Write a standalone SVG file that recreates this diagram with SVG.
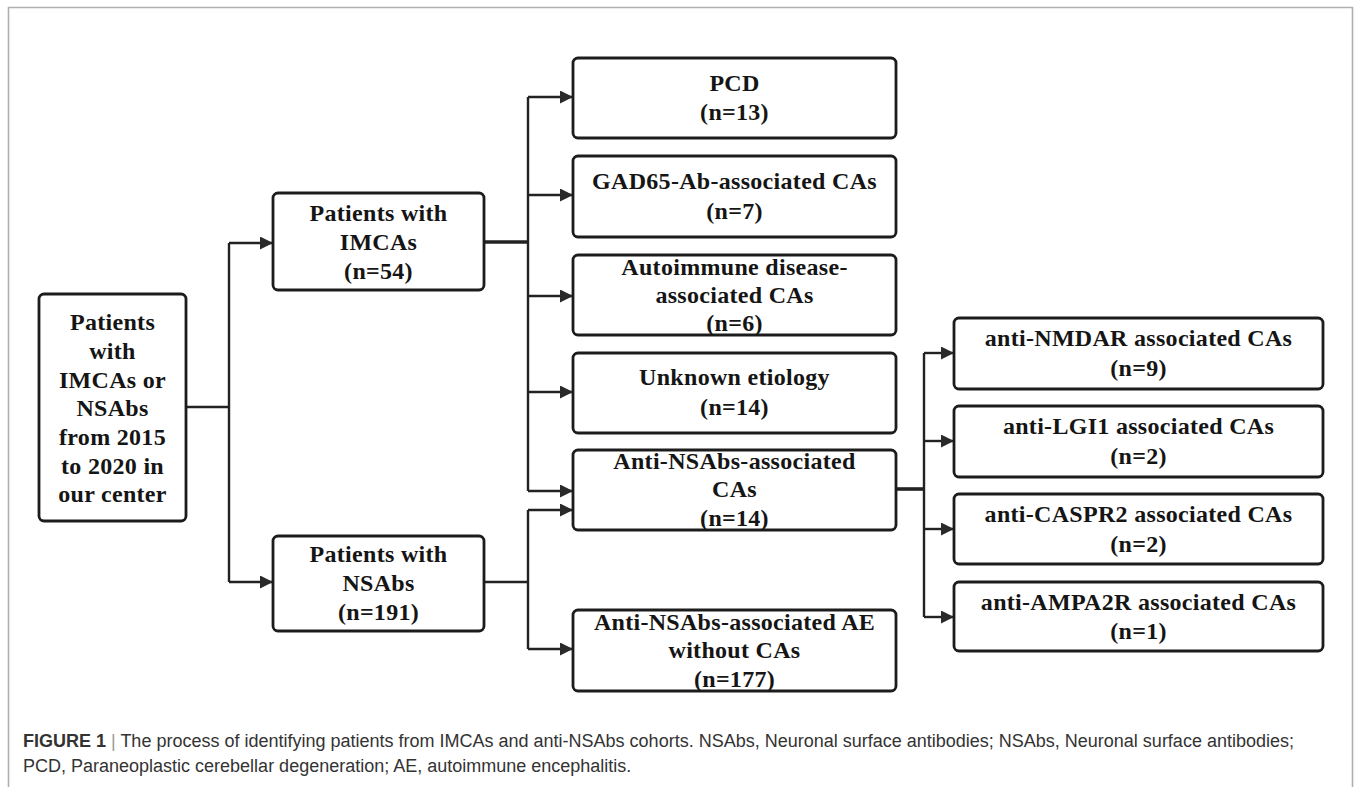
<svg xmlns="http://www.w3.org/2000/svg" width="1354" height="787" viewBox="0 0 1354 787">
<style>
.box{fill:#fff;stroke:#1c1c1c;stroke-width:2.8}
.t{font-family:"Liberation Serif","Times New Roman",serif;font-weight:bold;font-size:24px;fill:#151515;text-anchor:middle;letter-spacing:0.3px}
.ln{fill:none;stroke:#222;stroke-width:2.4}
.thick{fill:none;stroke:#222;stroke-width:3.6}
.arr{fill:none;stroke:#222;stroke-width:2.4;marker-end:url(#ah)}
.cap{font-family:"Liberation Sans",Arial,sans-serif;font-size:18px;fill:#333}
</style>
<defs>
<marker id="ah" viewBox="0 0 10 10" refX="10" refY="5" markerUnits="userSpaceOnUse" markerWidth="21" markerHeight="13" orient="auto">
<path d="M0,0 L10,5 L0,10 z" fill="#2a2a2a"/>
</marker>
</defs>
<rect width="1354" height="787" fill="#fff"/>
<path d="M8.5,787 V7.5 H1352.5 V787" fill="none" stroke="#b0b0b0" stroke-width="1.6"/>

<g id="connectors">
<path class="ln" d="M186,407 H229"/>
<path class="ln" d="M229,243 V582"/>
<path class="arr" d="M229,243 H273"/>
<path class="arr" d="M229,582 H273"/>
<path class="thick" d="M484,242 H528"/>
<path class="ln" d="M528,97 V491"/>
<path class="arr" d="M528,97 H573"/>
<path class="arr" d="M528,195 H573"/>
<path class="arr" d="M528,296 H573"/>
<path class="arr" d="M528,392 H573"/>
<path class="arr" d="M528,491 H573"/>
<path class="ln" d="M484,582 H528"/>
<path class="ln" d="M528,510 V649"/>
<path class="arr" d="M528,510 H573"/>
<path class="arr" d="M528,649 H573"/>
<path class="thick" d="M896,489 H924"/>
<path class="ln" d="M924,353 V617"/>
<path class="arr" d="M924,353 H954"/>
<path class="arr" d="M924,441 H954"/>
<path class="arr" d="M924,529 H954"/>
<path class="arr" d="M924,617 H954"/>
</g>

<g id="root">
<rect class="box" x="39" y="294" width="147" height="227" rx="5"/>
<text class="t" x="112.5" y="330">Patients</text>
<text class="t" x="112.5" y="359">with</text>
<text class="t" x="112.5" y="388">IMCAs or</text>
<text class="t" x="112.5" y="416">NSAbs</text>
<text class="t" x="112.5" y="445">from 2015</text>
<text class="t" x="112.5" y="474">to 2020 in</text>
<text class="t" x="112.5" y="502">our center</text>
</g>

<g id="imcas">
<rect class="box" x="273" y="193" width="211" height="97" rx="5"/>
<text class="t" x="378.5" y="221">Patients with</text>
<text class="t" x="378.5" y="250">IMCAs</text>
<text class="t" x="378.5" y="279">(n=54)</text>
</g>

<g id="nsabs">
<rect class="box" x="273" y="536" width="211" height="95" rx="5"/>
<text class="t" x="378.5" y="562">Patients with</text>
<text class="t" x="378.5" y="591">NSAbs</text>
<text class="t" x="378.5" y="620">(n=191)</text>
</g>

<g id="pcd">
<rect class="box" x="573" y="58" width="323" height="80" rx="5"/>
<text class="t" x="734.5" y="91">PCD</text>
<text class="t" x="734.5" y="120">(n=13)</text>
</g>

<g id="gad65">
<rect class="box" x="573" y="156" width="323" height="81" rx="5"/>
<text class="t" x="734.5" y="189">GAD65-Ab-associated CAs</text>
<text class="t" x="734.5" y="219">(n=7)</text>
</g>

<g id="autoimmune">
<rect class="box" x="573" y="255" width="323" height="80" rx="5"/>
<text class="t" x="734.5" y="275">Autoimmune disease-</text>
<text class="t" x="734.5" y="303">associated CAs</text>
<text class="t" x="734.5" y="331">(n=6)</text>
</g>

<g id="unknown">
<rect class="box" x="573" y="353" width="323" height="80" rx="5"/>
<text class="t" x="734.5" y="385">Unknown etiology</text>
<text class="t" x="734.5" y="415">(n=14)</text>
</g>

<g id="anti-nsabs-cas">
<rect class="box" x="573" y="450" width="323" height="80" rx="5"/>
<text class="t" x="734.5" y="469">Anti-NSAbs-associated</text>
<text class="t" x="734.5" y="497">CAs</text>
<text class="t" x="734.5" y="526">(n=14)</text>
</g>

<g id="anti-nsabs-ae">
<rect class="box" x="573" y="610" width="323" height="81" rx="5"/>
<text class="t" x="734.5" y="630">Anti-NSAbs-associated AE</text>
<text class="t" x="734.5" y="658">without CAs</text>
<text class="t" x="734.5" y="687">(n=177)</text>
</g>

<g id="nmdar">
<rect class="box" x="954" y="318" width="369" height="71" rx="5"/>
<text class="t" x="1138.5" y="346">anti-NMDAR associated CAs</text>
<text class="t" x="1138.5" y="376">(n=9)</text>
</g>

<g id="lgi1">
<rect class="box" x="954" y="406" width="369" height="71" rx="5"/>
<text class="t" x="1138.5" y="434">anti-LGI1 associated CAs</text>
<text class="t" x="1138.5" y="464">(n=2)</text>
</g>

<g id="caspr2">
<rect class="box" x="954" y="494" width="369" height="70" rx="5"/>
<text class="t" x="1138.5" y="522">anti-CASPR2 associated CAs</text>
<text class="t" x="1138.5" y="552">(n=2)</text>
</g>

<g id="ampa2r">
<rect class="box" x="954" y="582" width="369" height="69" rx="5"/>
<text class="t" x="1138.5" y="610">anti-AMPA2R associated CAs</text>
<text class="t" x="1138.5" y="639">(n=1)</text>
</g>

<g id="caption">
<text class="cap" x="23" y="747"><tspan font-weight="bold">FIGURE 1</tspan><tspan fill="#999"> | </tspan>The process of identifying patients from IMCAs and anti-NSAbs cohorts. NSAbs, Neuronal surface antibodies; NSAbs, Neuronal surface antibodies;</text>
<text class="cap" x="23" y="772">PCD, Paraneoplastic cerebellar degeneration; AE, autoimmune encephalitis.</text>
</g>
</svg>
